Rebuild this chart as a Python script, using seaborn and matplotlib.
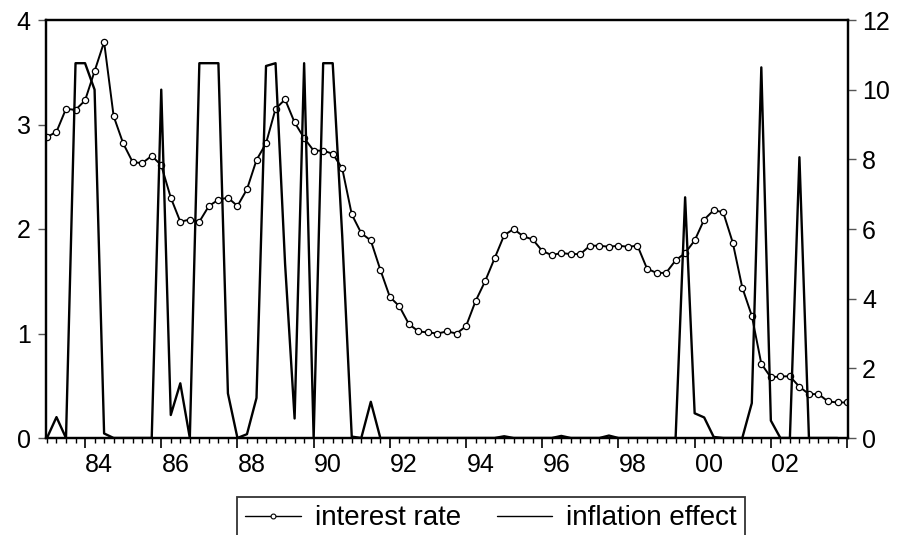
import numpy as np
import pandas as pd
import matplotlib.pyplot as plt
import seaborn as sns

# quarterly sample 1983Q1 - 2004Q1
quarters = pd.period_range("1983Q1", "2004Q1", freq="Q")

interest_rate = [
    2.88, 2.93, 3.15, 3.14, 3.23, 3.51, 3.79, 3.08, 2.82, 2.64,
    2.63, 2.70, 2.61, 2.30, 2.07, 2.09, 2.07, 2.22, 2.28, 2.30,
    2.22, 2.38, 2.66, 2.82, 3.15, 3.24, 3.02, 2.87, 2.75, 2.75,
    2.72, 2.58, 2.14, 1.96, 1.89, 1.61, 1.35, 1.26, 1.09, 1.02,
    1.01, 1.00, 1.02, 1.00, 1.07, 1.31, 1.50, 1.72, 1.94, 2.00,
    1.93, 1.90, 1.79, 1.75, 1.77, 1.76, 1.76, 1.84, 1.84, 1.83,
    1.84, 1.83, 1.84, 1.62, 1.58, 1.58, 1.70, 1.77, 1.89, 2.09,
    2.18, 2.16, 1.87, 1.44, 1.17, 0.71, 0.58, 0.59, 0.59, 0.49,
    0.42, 0.42, 0.35, 0.34, 0.34,
]

inflation_effect = [
    0, 0.6, 0, 10.76, 10.76, 10.0, 0.13, 0, 0, 0,
    0, 0, 10.0, 0.66, 1.57, 0, 10.76, 10.76, 10.76, 1.28,
    0, 0.11, 1.15, 10.68, 10.76, 5.0, 0.56, 10.76, 0, 10.76,
    10.76, 5.8, 0.04, 0, 1.04, 0, 0, 0, 0, 0,
    0, 0, 0, 0, 0, 0, 0, 0, 0.05, 0,
    0, 0, 0, 0, 0.06, 0, 0, 0, 0, 0.07,
    0, 0, 0, 0, 0, 0, 0, 6.91, 0.71, 0.59,
    0.03, 0, 0, 0, 1.0, 10.64, 0.5, 0, 0, 8.06,
    0, 0, 0, 0, np.nan,
]

df = pd.DataFrame({
    "t": np.arange(len(quarters)),
    "interest rate": interest_rate,
    "inflation effect": inflation_effect,
})

sns.set_style("ticks")
plt.rcParams["font.family"] = ["Liberation Sans", "DejaVu Sans"]
plt.rcParams["text.color"] = "black"
plt.rcParams["xtick.labelcolor"] = "black"
plt.rcParams["ytick.labelcolor"] = "black"

fig = plt.figure(figsize=(9.08, 5.35), dpi=100)
ax = fig.add_axes([46 / 908, 1 - 438 / 535, 802 / 908, 418 / 535])
ax2 = ax.twinx()

sns.lineplot(data=df, x="t", y="interest rate", ax=ax, color="black",
             linewidth=1.4, marker="o", markersize=4.5,
             markerfacecolor="white", markeredgecolor="black",
             markeredgewidth=0.9)
sns.lineplot(data=df, x="t", y="inflation effect", ax=ax2, color="black",
             linewidth=1.7)

ax.set_xlim(-0.1, len(quarters) - 0.9)
ax.set_ylim(0, 4)
ax2.set_ylim(0, 12)
ax.set_yticks([0, 1, 2, 3, 4])
ax2.set_yticks([0, 2, 4, 6, 8, 10, 12])
ax.set_xlabel("")
ax.set_ylabel("")
ax2.set_ylabel("")

# quarter ticks and 2-year ticks
year_start = [i for i, q in enumerate(quarters) if q.quarter == 1]
two_year = [i for i in year_start if quarters[i].year % 2 == 0]
ax.set_xticks(two_year, labels=[""] * len(two_year))
ax.set_xticks(np.arange(len(quarters)), minor=True)
ax.tick_params(axis="x", which="major", length=7.5, width=1.2, color="black", direction="out")
ax.tick_params(axis="x", which="minor", length=3.8, width=1.0, color="black", direction="out")

# year labels centred in the year
lab_pos = [i + 1.5 for i in two_year]
sec = ax.secondary_xaxis("bottom")
sec.set_xticks(lab_pos, labels=[quarters[i].strftime("%y") for i in two_year])
sec.tick_params(length=0, pad=11, labelsize=18, labelcolor="black")
sec.spines["bottom"].set_visible(False)

ax.tick_params(axis="y", length=6, width=1.0, color="#555555", pad=5, labelsize=18, labelcolor="black")
ax2.tick_params(axis="y", length=6, width=1.0, color="#555555", pad=4, labelsize=18, labelcolor="black")

for a in (ax, ax2):
    for s in a.spines.values():
        s.set_visible(True)
        s.set_color("black")
        s.set_linewidth(1.6)

# legend
h1 = plt.Line2D([], [], color="black", linewidth=1.0, marker="o", markersize=3.5,
                markerfacecolor="white", markeredgecolor="black", markeredgewidth=0.8)
h2 = plt.Line2D([], [], color="black", linewidth=1.0)
leg = fig.legend([h1, h2], ["interest rate", "inflation effect"], loc="upper center",
                 bbox_to_anchor=(491 / 908, 1 - 497 / 535), ncol=2, fontsize=20,
                 frameon=True, fancybox=False, borderaxespad=0, handlelength=2.0,
                 columnspacing=1.3, handletextpad=0.5, borderpad=0.3)
leg.get_frame().set_edgecolor("black")
leg.get_frame().set_linewidth(1.3)
for t in leg.get_texts():
    t.set_color("black")
if ax2.get_legend():
    ax2.get_legend().remove()

fig.savefig("out.png", dpi=100)
